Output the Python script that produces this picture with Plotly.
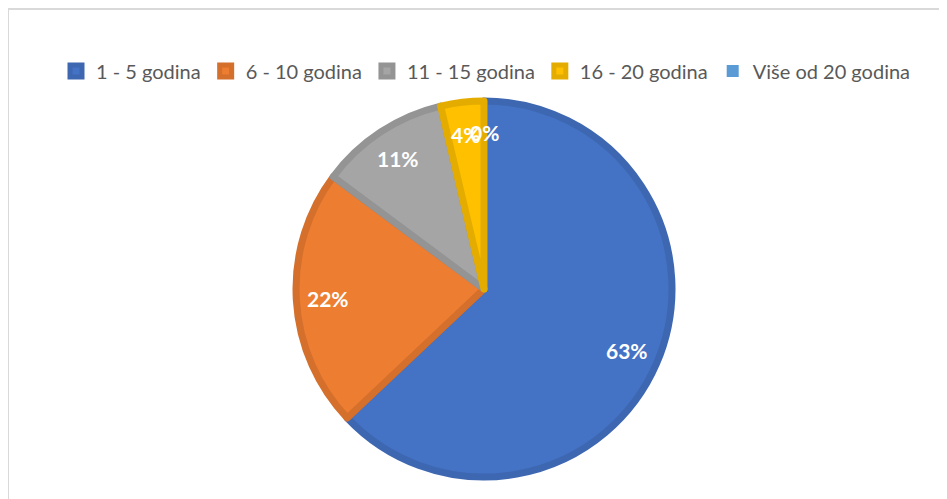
import math
import plotly.graph_objects as go

categories = ["1 - 5 godina", "6 - 10 godina", "11 - 15 godina", "16 - 20 godina", "Više od 20 godina"]
counts = [17, 6, 3, 1, 0]
fill_colors = ["#4472C4", "#ED7D31", "#A5A5A5", "#FFC000", "#5B9BD5"]
border_colors = ["#3E67B1", "#D46F2C", "#949494", "#E5AC00", "#5289C0"]

W, H = 947, 499
OFF = 8  # page body margin in the browser
cx, cy, r = 484, 289, 188  # page-pixel geometry of the pie


def fx(px):
    return (px - OFF) / W


def fy(py):
    return 1 - (py - OFF) / H


fig = go.Figure(go.Pie(
    labels=categories,
    values=counts,
    sort=False,
    direction="clockwise",
    rotation=0,
    marker=dict(colors=fill_colors,
                line=dict(color=border_colors, width=[7 if v > 0 else 0 for v in counts])),
    textinfo="none",
    domain=dict(x=[fx(cx - r), fx(cx + r)], y=[fy(cy + r), fy(cy - r)]),
    showlegend=True,
    hoverinfo="label+percent",
))

# data labels, placed along each slice's mid-angle (from the data)
total = sum(counts)
cum = 0
annotations = []
for v in counts:
    frac = v / total
    mid = (cum + frac / 2) * 2 * math.pi
    cum += frac
    rr = 0.83 * r
    px = cx + rr * math.sin(mid)
    py = cy - rr * math.cos(mid)
    annotations.append(dict(
        x=fx(px), y=fy(py), xref="paper", yref="paper",
        text=f"{round(frac * 100)}%", showarrow=False,
        font=dict(family="Lato", size=21, color="white", weight="bold"),
        xanchor="center", yanchor="middle",
    ))

fig.update_layout(
    width=W, height=H,
    margin=dict(l=0, r=0, t=0, b=0, autoexpand=False),
    paper_bgcolor="white",
    plot_bgcolor="white",
    font=dict(family="Lato", color="#595959"),
    legend=dict(
        orientation="h",
        x=fx(486), xanchor="center",
        y=fy(71), yanchor="middle",
        font=dict(family="Lato", size=20, color="#595959"),
        itemwidth=30,
        traceorder="normal",
    ),
    annotations=annotations,
    shapes=[dict(type="rect", xref="paper", yref="paper",
                 x0=fx(8), x1=1.05, y0=-0.05, y1=fy(9),
                 line=dict(color="#D9D9D9", width=2), fillcolor="rgba(0,0,0,0)", layer="below")],
)

fig.write_html("out.html")
